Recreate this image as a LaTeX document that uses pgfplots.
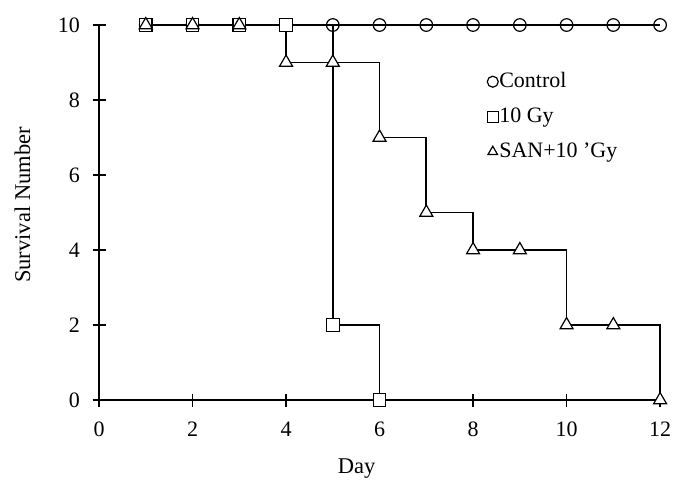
\documentclass[border=0pt]{standalone}
\usepackage{fontspec}
\setmainfont{Liberation Serif}
\usepackage{pgfplots}
\pgfplotsset{compat=1.18}
\begin{document}
\fontsize{22}{26}\selectfont
\begin{tikzpicture}
\begin{axis}[
    scale only axis,
    width=561pt, height=375pt,
    xmin=0, xmax=12, ymin=0, ymax=10,
    xtick={0,2,...,12}, ytick={0,2,...,10},
    axis x line*=bottom, axis y line*=left,
    axis line style={line width=1.6pt, -},
    tick align=center, major tick length=13pt,
    tick style={line width=1.3pt, black},
    /pgf/number format/assume math mode=true,
    ticklabel style={font=\fontsize{22}{26}\selectfont, inner sep=0pt},
    xticklabel style={anchor=north, yshift=-15pt},
    yticklabel style={anchor=east, xshift=-12.5pt},
    label style={font=\fontsize{22.5}{26}\selectfont, inner sep=0pt},
    xlabel={Day}, ylabel={Survival Number},
    xlabel style={at={(axis description cs:0.459,-0.1947)}, anchor=base},
    ylabel style={at={(axis description cs:-0.123,0.52)}, anchor=base, rotate=0},
    clip=false,
    legend style={draw=none, fill=none, inner sep=0pt,
        at={(axis description cs:0.6916,0.88)}, anchor=north west,
        font=\fontsize{22}{26}\selectfont, row sep=12pt,
        nodes={inner sep=1pt, text height=16pt, text depth=5pt},
        /tikz/every even column/.append style={column sep=5pt}},
    legend cell align=left,
    legend image code/.code={\draw[only marks, mark size=5.5pt, line width=1.1pt] plot coordinates {(0pt,0pt)};},
    every axis plot/.append style={black, line width=1.7pt, mark options={fill=white, solid, line width=1.2pt}},
]
\path (axis description cs:-0.1765,-0.216) rectangle (axis description cs:1.023,1.0667);
\addplot[const plot, mark=o, mark size=6.3pt] coordinates {
    (1,10) (2,10) (3,10) (4,10) (5,10) (6,10) (7,10) (8,10) (9,10) (10,10) (11,10) (12,10)
};
\addlegendentry{Control}
\addplot[const plot, mark=square*, mark size=6.3pt] coordinates {
    (1,10) (2,10) (3,10) (4,10) (5,2) (6,0)
};
\addlegendentry{10 Gy}
\addplot[const plot, mark=triangle*, mark size=7.5pt] coordinates {
    (1,10) (2,10) (3,10) (4,9) (5,9) (6,7) (7,5) (8,4) (9,4) (10,2) (11,2) (12,0)
};
\addlegendentry{SAN+10 ’Gy}
\end{axis}
\end{tikzpicture}
\end{document}
